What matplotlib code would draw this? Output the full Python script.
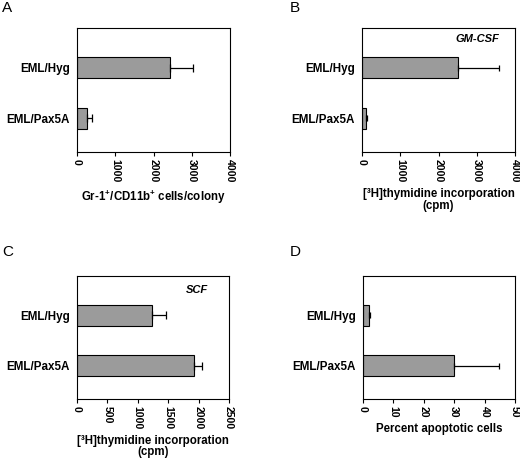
import numpy as np
import matplotlib
matplotlib.use('Agg')
import matplotlib.pyplot as plt

plt.rcParams['font.family'] = ['Liberation Sans', 'DejaVu Sans']
plt.rcParams['mathtext.fontset'] = 'custom'
plt.rcParams['mathtext.rm'] = 'Liberation Sans:bold'
plt.rcParams['mathtext.bf'] = 'Liberation Sans:bold'
plt.rcParams['mathtext.default'] = 'bf'

# data
groups = ['EML/Hyg', 'EML/Pax5A']

a_vals = [2440, 250]
a_err = [580, 130]
a_ticks = [0, 1000, 2000, 3000, 4000]

b_vals = [2500, 100]
b_err = [1090, 30]
b_ticks = [0, 1000, 2000, 3000, 4000]

c_vals = [1235, 1920]
c_err = [235, 140]
c_ticks = [0, 500, 1000, 1500, 2000, 2500]

d_vals = [2.0, 29.9]
d_err = [0.3, 14.7]
d_ticks = [0, 10, 20, 30, 40, 50]

W, H = 520, 459
fig = plt.figure(figsize=(W / 100, H / 100), dpi=100)


def px_axes(left, top, right, bottom):
    # pixel box -> figure fraction
    return fig.add_axes([left / W, 1 - bottom / H, (right - left) / W, (bottom - top) / H])


def panel(ax, vals, err, ticks, xlabel, note=None, note_xy=None, cap=2.5):
    ypos = np.arange(len(groups))
    ax.barh(ypos, vals, height=0.41, color='#9b9b9b', edgecolor='black', linewidth=0.8)
    ax.errorbar(vals, ypos, xerr=[np.zeros(len(err)), err], fmt='none',
                ecolor='black', elinewidth=0.9, capsize=cap, capthick=0.9)
    ax.set_ylim(1.66, -0.78)
    ax.set_xlim(ticks[0], ticks[-1])
    ax.set_xticks(ticks)
    ax.set_xticklabels([str(t) for t in ticks], rotation=-90, fontsize=7.6, fontweight='bold')
    ax.set_yticks(ypos)
    ax.set_yticklabels(groups, fontsize=8.4, fontweight='bold')
    ax.tick_params(axis='y', length=0, pad=5)
    ax.tick_params(axis='x', length=3, width=0.8, pad=2)
    for s in ax.spines.values():
        s.set_linewidth(0.8)
    ax.set_xlabel(xlabel, fontsize=8.3, fontweight='bold', labelpad=4, linespacing=0.95)
    if note:
        ax.text(note_xy[0], note_xy[1], note, transform=ax.transAxes, ha='right', va='center',
                fontsize=8, fontweight='bold', fontstyle='italic')


thy_label = '[\u00b3H]thymidine incorporation\n(cpm)'

axA = px_axes(77, 28, 230, 152)
panel(axA, a_vals, a_err, a_ticks, 'Gr-1$^{+}$/CD11b$^{+}$ cells/colony', cap=2.8)

axB = px_axes(362, 28, 515, 152)
panel(axB, b_vals, b_err, b_ticks, thy_label,
      note='GM-CSF', note_xy=(0.9, 0.91), cap=2.0)

axC = px_axes(77, 276, 229, 399)
panel(axC, c_vals, c_err, c_ticks, thy_label,
      note='SCF', note_xy=(0.86, 0.886), cap=2.8)

axD = px_axes(363, 276, 515, 399)
panel(axD, d_vals, d_err, d_ticks, 'Percent apoptotic cells', cap=2.0)

# panel letters
for lab, x, y in [('A', 2, 8), ('B', 290, 8), ('C', 2, 252), ('D', 290, 252)]:
    fig.text(x / W, 1 - y / H, lab, fontsize=11, ha='left', va='center')

fig.savefig('out.png', dpi=100)
